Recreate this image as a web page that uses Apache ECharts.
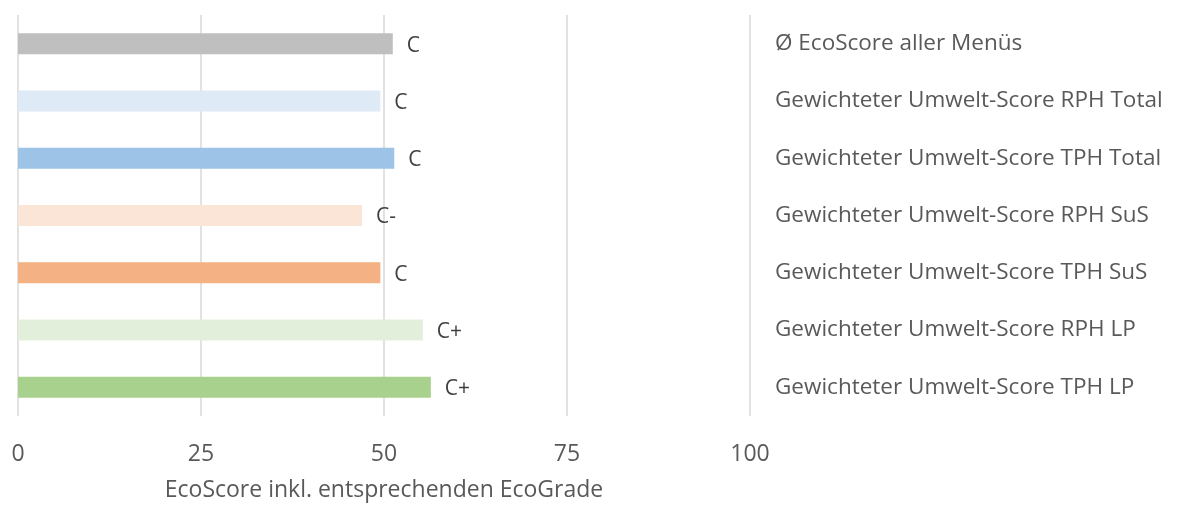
<!DOCTYPE html>
<html>
<head>
<meta charset="utf-8">
<script src="https://cdn.jsdelivr.net/npm/echarts@6/dist/echarts.min.js"></script>
<style>
  html, body { margin: 0; padding: 0; background: #fff; }
  #chart { width: 1182px; height: 505px; }
</style>
</head>
<body>
<div id="chart"></div>
<script>
    // categories top -> bottom
    const categories = [
        'Ø EcoScore aller Menüs',
        'Gewichteter Umwelt-Score RPH Total',
        'Gewichteter Umwelt-Score TPH Total',
        'Gewichteter Umwelt-Score RPH SuS',
        'Gewichteter Umwelt-Score TPH SuS',
        'Gewichteter Umwelt-Score RPH LP',
        'Gewichteter Umwelt-Score TPH LP'
    ];
    const scores = [51.2, 49.5, 51.4, 47.0, 49.5, 55.3, 56.4];
    const grades = ['C', 'C', 'C', 'C-', 'C', 'C+', 'C+'];
    const barColors = ['#bfbfbf', '#deeaf6', '#9dc3e6', '#fbe5d6', '#f4b183', '#e2efda', '#a9d18e'];
    const xTicks = [0, 25, 50, 75, 100];

    const FONT = 'Open Sans';
    const TEXT_COLOR = '#595959';

    const chart = echarts.init(document.getElementById('chart'));
    chart.setOption({
        animation: false,
        grid: {
            left: 18,
            right: 432,
            top: 15,
            bottom: 89,
            containLabel: false,
            outerBoundsMode: 'none'
        },
        xAxis: {
            type: 'value',
            min: xTicks[0],
            max: xTicks[xTicks.length - 1],
            interval: 25,
            name: 'EcoScore inkl. entsprechenden EcoGrade',
            nameLocation: 'middle',
            nameGap: 63,
            nameTextStyle: { fontFamily: FONT, fontSize: 23, color: TEXT_COLOR },
            axisLine: { show: false },
            axisTick: { show: false },
            axisLabel: {
                margin: 27,
                fontFamily: FONT,
                fontSize: 23,
                color: TEXT_COLOR
            },
            splitLine: { lineStyle: { color: '#d9d9d9', width: 1.5 } }
        },
        yAxis: {
            type: 'category',
            inverse: true,
            position: 'right',
            data: categories,
            axisLine: { show: false },
            axisTick: { show: false },
            axisLabel: {
                margin: 25,
                fontFamily: FONT,
                fontSize: 22.5,
                color: TEXT_COLOR
            },
            splitLine: { show: false }
        },
        series: [{
            type: 'bar',
            barWidth: 21,
            data: scores.map((v, i) => ({
                value: v,
                itemStyle: { color: barColors[i] }
            })),
            label: {
                show: true,
                position: 'right',
                distance: 14,
                offset: [0, 2],
                fontFamily: FONT,
                fontSize: 21,
                color: '#404040',
                formatter: p => grades[p.dataIndex]
            }
        }]
    });
</script>
</body>
</html>
